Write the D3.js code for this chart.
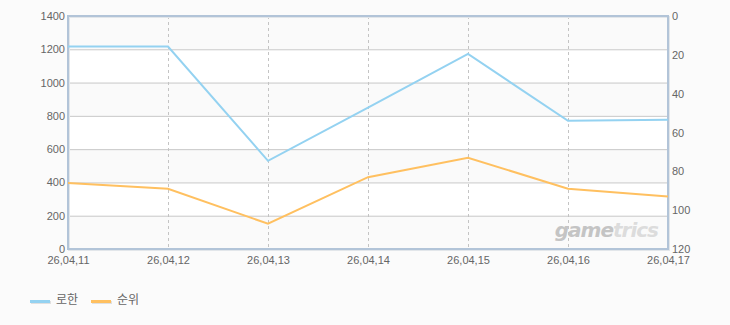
<!DOCTYPE html>
<html>
<head>
<meta charset="utf-8">
<script src="https://cdn.jsdelivr.net/npm/d3@7"></script>
<style>
	body { margin: 0; background: #fbfbfb; }
	#chart-area { width: 730px; height: 325px; }
	text { font-family: "Liberation Sans", Arial, sans-serif; font-size: 11px; fill: #666; }
	.legend text { font-family: "Noto Sans CJK KR", sans-serif; font-size: 12px; }
</style>
</head>
<body>
<div id="chart-area"></div>
<script>
const dates = ['26,04,11', '26,04,12', '26,04,13', '26,04,14', '26,04,15', '26,04,16', '26,04,17'];
const rohanValues = [1216, 1216, 530, 850, 1172, 770, 776];
const rankValues = [86, 89, 107, 83, 73, 89, 93];
const leftTicks = [0, 200, 400, 600, 800, 1000, 1200, 1400];
const rightTicks = [0, 20, 40, 60, 80, 100, 120];
const seriesNames = ['로한', '순위'];

window.addEventListener('DOMContentLoaded', () => {

	const margin = { top: 16, right: 62, bottom: 76, left: 68 };
	const width = 730 - margin.left - margin.right;
	const height = 325 - margin.top - margin.bottom;

	const colors = ['#94d2f1', '#ffc060'];

	const svg = d3.select('#chart-area')
		.append('svg')
		.attr('width', 730)
		.attr('height', 325);

	const g = svg.append('g')
		.attr('transform', `translate(${margin.left}, ${margin.top})`);

	// Scales
	const x = d3.scalePoint()
		.domain(dates)
		.range([0, width]);

	const y = d3.scaleLinear()
		.domain([0, 1400])
		.range([height, 0]);

	const yRank = d3.scaleLinear()
		.domain([0, 120])
		.range([0, height]);

	// background bands
	g.append('rect')
		.attr('width', width)
		.attr('height', height)
		.attr('fill', '#ffffff');

	g.selectAll('.band')
		.data(leftTicks.slice(0, -1).filter((d, i) => i % 2 === 0))
		.enter()
			.append('rect')
			.attr('x', 0)
			.attr('y', (d) => y(d + 200))
			.attr('width', width)
			.attr('height', (d) => y(d) - y(d + 200))
			.attr('fill', '#fafafa');

	// grid
	g.selectAll('.hgrid')
		.data(leftTicks.slice(1, -1))
		.enter()
			.append('line')
			.attr('x1', 0)
			.attr('x2', width)
			.attr('y1', (d) => y(d) + 0.5)
			.attr('y2', (d) => y(d) + 0.5)
			.attr('stroke', '#c8c8c8');

	g.selectAll('.vgrid')
		.data(dates.slice(1, -1))
		.enter()
			.append('line')
			.attr('x1', (d) => x(d) + 0.5)
			.attr('x2', (d) => x(d) + 0.5)
			.attr('y1', 0)
			.attr('y2', height)
			.attr('stroke', '#c4c4c4')
			.attr('stroke-dasharray', '3,3');

	// frame
	g.append('rect')
		.attr('x', 1)
		.attr('y', 1)
		.attr('width', width)
		.attr('height', height)
		.attr('fill', 'none')
		.attr('stroke', '#e2e6ea')
		.attr('stroke-width', 2);
	g.append('rect')
		.attr('width', width)
		.attr('height', height)
		.attr('fill', 'none')
		.attr('stroke', '#b2c4d8')
		.attr('stroke-width', 2);

	// Axes
	const leftAxis = d3.axisLeft(y).tickValues(leftTicks).tickFormat(d3.format('d')).tickSize(0).tickPadding(3);
	g.append('g').call(leftAxis).call((a) => a.select('.domain').remove());

	const rightAxis = d3.axisRight(yRank).tickValues(rightTicks).tickFormat(d3.format('d')).tickSize(0).tickPadding(4);
	g.append('g')
		.attr('transform', `translate(${width}, 0)`)
		.call(rightAxis)
		.call((a) => a.select('.domain').remove());

	const bottomAxis = d3.axisBottom(x).tickSize(0).tickPadding(7);
	g.append('g')
		.attr('transform', `translate(0, ${height})`)
		.call(bottomAxis)
		.call((a) => a.select('.domain').remove());

	g.selectAll('.tick text').attr('fill', '#666').style('font-size', '11px');

	// watermark
	const mark = g.append('text')
		.attr('x', width - 10)
		.attr('y', height - 12)
		.attr('text-anchor', 'end')
		.style('font-family', '"DejaVu Sans", sans-serif')
		.style('font-size', '20px')
		.style('font-weight', 'bold')
		.style('font-style', 'italic')
		.style('letter-spacing', '-1px');
	mark.append('tspan').style('fill', '#c4c4c4').text('game');
	mark.append('tspan').style('fill', '#dcdcdc').text('trics');

	// lines
	const rohanLine = d3.line()
		.x((d, i) => x(dates[i]))
		.y((d) => y(d));
	const rankLine = d3.line()
		.x((d, i) => x(dates[i]))
		.y((d) => yRank(d));

	g.append('path')
		.datum(rohanValues)
		.attr('d', rohanLine)
		.attr('fill', 'none')
		.attr('stroke', colors[0])
		.attr('stroke-width', 2);

	g.append('path')
		.datum(rankValues)
		.attr('d', rankLine)
		.attr('fill', 'none')
		.attr('stroke', colors[1])
		.attr('stroke-width', 2);

	// legend
	const legend = svg.append('g')
		.attr('class', 'legend')
		.attr('transform', 'translate(30, 300)');

	const items = legend.selectAll('g')
		.data(seriesNames)
		.enter()
			.append('g')
			.attr('transform', (d, i) => `translate(${i * 61}, 0)`);

	items.append('rect')
		.attr('x', 1)
		.attr('y', 1)
		.attr('width', 20)
		.attr('height', 3)
		.attr('fill', '#e0e0e0');
	items.append('rect')
		.attr('width', 20)
		.attr('height', 3)
		.attr('fill', (d, i) => colors[i]);
	items.append('text')
		.attr('x', 26)
		.attr('y', 4)
		.style('fill', '#666')
		.text((d) => d);

});
</script>
</body>
</html>
